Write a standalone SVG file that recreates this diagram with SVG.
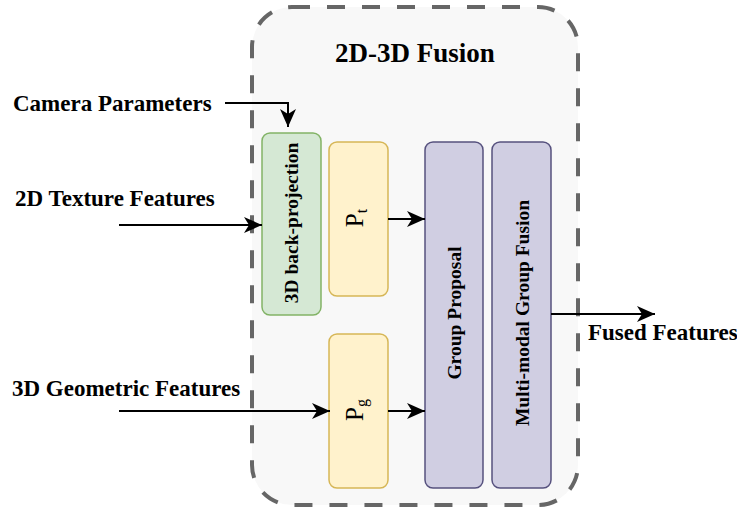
<svg xmlns="http://www.w3.org/2000/svg" width="737" height="515" viewBox="0 0 737 515">
<style>
.lbl{font-family:"Liberation Serif","Times New Roman",serif;font-weight:bold;font-size:23px;fill:#000}
.title{font-family:"Liberation Serif","Times New Roman",serif;font-weight:bold;font-size:27px;fill:#000}
.box{font-family:"Liberation Serif","Times New Roman",serif;font-weight:bold;font-size:19.5px;fill:#000}
.p{font-family:"Liberation Serif","Times New Roman",serif;font-size:25px;fill:#000}
.edge{fill:none;stroke:#000;stroke-width:2}
</style>
<defs>
<marker id="arr" markerUnits="userSpaceOnUse" markerWidth="18" markerHeight="18" viewBox="0 0 18 18" refX="18" refY="9" orient="auto">
<path d="M0,1 L18,9 L0,17 L5,9 Z" fill="#000"/>
</marker>
</defs>
<rect width="737" height="515" fill="#ffffff"/>
<g id="container">
<rect x="252" y="7" width="326" height="498" rx="40" ry="40" fill="#f8f8f8" stroke="#666666" stroke-width="4" stroke-dasharray="18 17"/>
<text class="title" x="415" y="62" text-anchor="middle">2D-3D Fusion</text>
</g>
<g id="backproj">
<rect x="262" y="133" width="59" height="182" rx="8" fill="#d5e8d4" stroke="#82b366" stroke-width="1.5"/>
<text class="box" transform="translate(291.5,223) rotate(-90)" x="0" y="6.5" text-anchor="middle">3D back-projection</text>
</g>
<g id="pt">
<rect x="329" y="142" width="59" height="154" rx="8" fill="#fff2cc" stroke="#d6b656" stroke-width="1.5"/>
<text class="p" transform="translate(358.5,218) rotate(-90)" x="0" y="4" text-anchor="middle">P<tspan font-size="16" dy="4">t</tspan></text>
</g>
<g id="pg">
<rect x="329" y="334" width="59" height="154" rx="8" fill="#fff2cc" stroke="#d6b656" stroke-width="1.5"/>
<text class="p" transform="translate(358.5,410) rotate(-90)" x="0" y="4" text-anchor="middle">P<tspan font-size="16" dy="4">g</tspan></text>
</g>
<g id="groupproposal">
<rect x="425" y="142" width="58" height="346" rx="8" fill="#d0cee2" stroke="#56517e" stroke-width="1.5"/>
<text class="box" transform="translate(454,313) rotate(-90)" x="0" y="7" text-anchor="middle">Group Proposal</text>
</g>
<g id="mmfusion">
<rect x="492" y="142" width="59" height="346" rx="8" fill="#d0cee2" stroke="#56517e" stroke-width="1.5"/>
<text class="box" transform="translate(521.5,313) rotate(-90)" x="0" y="7" text-anchor="middle">Multi-modal Group Fusion</text>
</g>
<g id="labels">
<text class="lbl" x="13" y="111">Camera Parameters</text>
<text class="lbl" x="15" y="206">2D Texture Features</text>
<text class="lbl" x="12" y="396">3D Geometric Features</text>
<text class="lbl" x="588" y="340">Fused Features</text>
</g>
<g id="connectors">
<path class="edge" d="M225,103 H288 V127" marker-end="url(#arr)"/>
<path class="edge" d="M119,225 H262" marker-end="url(#arr)"/>
<path class="edge" d="M119,411 H330" marker-end="url(#arr)"/>
<path class="edge" d="M388,219 H425" marker-end="url(#arr)"/>
<path class="edge" d="M388,411 H425" marker-end="url(#arr)"/>
<path class="edge" d="M551,314 H655" marker-end="url(#arr)"/>
</g>
</svg>
